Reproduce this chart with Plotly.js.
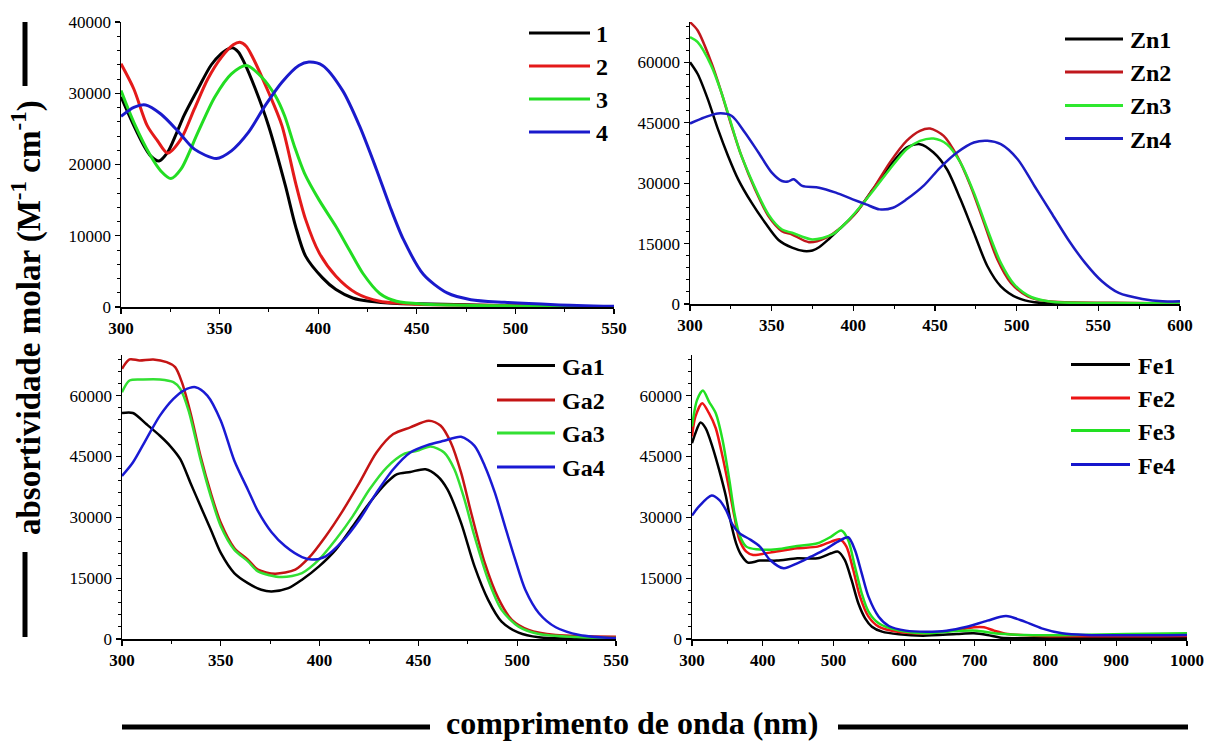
<!DOCTYPE html>
<html>
<head>
<meta charset="utf-8">
<script src="https://cdn.plot.ly/plotly-3.0.1.min.js"></script>
<style>html,body{margin:0;padding:0;background:#fff;}#chart{width:1206px;height:742px;}</style>
</head>
<body>
<div id="chart"></div>
<script>
// ---------- DATA ----------
// Panel A: compounds 1-4
var names1 = ["1", "2", "3", "4"];
var wl_1 = [300,306.5,311.6,315,319.3,323.6,328,332,339,345.8,351,353.5,356.4,359.5,362.5,368,374.8,383.4,388.5,393.6,402.2,409,417.5,426,440,450,475,500,550];
var ab_1 = [29500,25450,22630,21220,20500,21690,24300,26900,30600,34000,35600,36100,36400,35800,34300,30700,25450,17000,11360,7136,4085,2441,1268,800,500,450,300,150,0];
var wl_2 = [300,306.5,313.3,318.5,323.6,330.4,337.2,344,351,356.9,360.3,363.5,366.3,374.8,381.6,388.5,393.6,400.5,409,419.2,431.2,450,500,550];
var ab_2 = [34130,30600,25450,23330,21600,23560,27800,32000,35070,36800,37150,36600,35300,30140,25450,17460,12300,7600,4320,1970,800,400,200,0];
var wl_3 = [300,306.5,315,320.2,325.3,330.4,339,347.5,356,363.7,371.4,378.2,383,388,393,400.5,409,415.8,422.7,431.2,439.7,455,500,550];
var ab_3 = [30370,25920,21220,19100,18030,19340,24500,29440,32720,33900,32250,29670,26800,22500,18800,15000,11300,8000,4700,1900,800,400,150,0];
var wl_4 = [300,306.5,312.5,320.2,328.7,337.2,348.4,356,364.6,373.1,381.6,390.2,395.3,402.2,412.4,420.9,429.5,436.3,443.2,453.4,465.4,477.4,494.5,520,550];
var ab_4 = [26760,28030,28360,27090,24740,22160,20840,21920,24500,28260,31550,33900,34370,33900,30370,25450,19340,14180,9480,4550,1970,1030,660,330,100];

// Panel B: Zn1-Zn4
var names2 = ["Zn1", "Zn2", "Zn3", "Zn4"];
var wl_zn1 = [300,304.7,310.9,317.1,323.3,329.5,337.7,346,354.2,362.5,369.7,375,379,385.2,391.3,401.6,412,422.3,432.6,440.8,449.1,457.3,465.6,473.8,482.1,490.3,500.6,510.9,530,600];
var ab_zn1 = [60000,57100,50870,43400,36760,30950,25150,20170,15900,14000,13150,13300,14100,16200,18500,22660,28470,34270,38840,39670,37600,33450,25980,17680,9380,4400,1500,415,150,100];
var wl_zn2 = [300,304.7,313,319.2,325.4,331.5,339.8,348,356.3,362.5,372.8,383.1,393.4,401.6,412,422.3,432.6,440.8,447,455.3,463.5,471.8,480,488.2,496.5,506.8,519.2,560,600];
var ab_zn2 = [69960,67880,60000,52530,44230,36760,28470,21830,18090,17260,15350,16430,19340,22660,28470,35100,40500,43000,43570,41740,36760,29300,20170,11040,5230,1900,660,300,100];
var wl_zn3 = [300,304.7,313,319.2,325.4,331.5,348,356.3,362.5,374.8,387.2,395.5,403.7,412,422.3,432.6,440.8,449.1,457.3,465.6,473.8,482.1,490.3,498.6,508.9,521.2,560,600];
var ab_zn3 = [66230,64980,59170,52530,44500,36760,22240,18500,17680,16020,17260,20170,23900,28050,33450,38420,40500,41080,39670,35100,27640,18500,10210,4810,1740,580,250,100];
var wl_zn4 = [300,308.9,317.1,325.4,333.6,341.9,350.1,356.3,360,363.5,368.7,379,389.3,399.6,407.8,416.1,424.3,432.6,442.9,453.2,463.5,473.8,482.1,490.3,500.6,510.9,521.2,531.5,541.9,552.2,562.5,576.9,589.3,600];
var ab_zn4 = [44810,46310,47300,46720,42570,37600,32610,30540,30400,30950,29300,28880,27640,25980,24730,23490,23900,25980,29300,33860,37600,40080,40500,39670,35930,29300,22660,16020,10210,5640,2740,1240,660,700];

// Panel C: Ga1-Ga4
var names3 = ["Ga1", "Ga2", "Ga3", "Ga4"];
var wl_ga1 = [300,305.5,312.3,319.2,324.3,329.5,334.6,339.7,344.9,350,356.8,363.7,370.5,375.7,384.2,391.1,399.7,408.2,416.8,425.3,433.9,439,445.9,453.6,459.6,464.7,471.6,478.4,485.3,492.1,500.7,511,530,550];
var ab_ga1 = [55710,55710,52980,50100,47620,44320,38540,32760,26990,21210,16260,13780,12130,11720,12540,14610,17910,22040,27810,33590,38540,40600,41180,41840,40190,36890,28640,17910,9660,4290,1570,410,100,0];
var wl_ga2 = [300,303.8,308.9,315.8,322.6,326.9,330.3,334.6,339.7,344.9,350,356.8,363.7,368.8,377.4,387.7,394.5,403.1,411.6,420.2,428.8,437.3,445.9,455.3,461.3,466.4,471.6,476.7,483.6,490.4,497.3,505.8,519.5,550];
var ab_ga2 = [66600,68910,68660,68910,68250,67010,63300,55870,45140,36070,28640,22450,19560,17080,16090,17080,19970,25340,31530,38540,45970,50510,52160,53810,52570,48450,41020,31110,18730,10070,4700,2230,990,580];
var wl_ga3 = [300,303.8,310.6,319.2,326,329.5,333.7,339.7,344.9,350,356.8,363.7,368.8,380.8,391.1,399.7,408.2,416.8,425.3,433.9,442.5,449.3,456.2,463,468.2,473.3,478.4,485.3,492.1,500.7,511,530,550];
var ab_ga3 = [60820,63710,63960,63960,63300,61650,56290,44320,35240,27810,22040,19150,16670,15270,16260,19560,24510,30290,36890,42260,45560,46380,47460,45970,41840,34410,25340,14610,7180,3050,1240,500,250];
var wl_ga4 = [300,305.5,312.3,319.2,326,331.2,337.2,343.2,350,356.8,363.7,368.8,375.7,382.5,391.1,396.2,403.1,411.6,420.2,428.8,437.3,445.9,454.5,463,471.6,478.4,483.6,488.7,493.8,499,504.1,511,519.5,531.5,550];
var ab_ga4 = [40190,43490,49270,55050,59170,61240,62060,60000,53800,44000,36800,31500,26300,22900,20200,19600,20390,24100,29460,36070,41840,45970,47790,48860,49850,47620,42670,36070,27810,19560,12130,6350,2890,990,170];

// Panel D: Fe1-Fe4
var names4 = ["Fe1", "Fe2", "Fe3", "Fe4"];
var wl_fe1 = [300,304.8,312,319.2,328.8,338.4,348,355.2,362.4,369.6,379.2,396,420,448.8,477.6,496.8,506.4,516,525.6,535.2,544.8,554.4,568.8,592.8,626.4,674.5,698.5,717.7,736.9,794.5,1000];
var ab_fe1 = [48250,50720,53350,51950,47430,41680,35100,28520,23590,20710,18820,19320,19320,19890,19890,21130,21540,19480,14550,8800,5100,3040,1810,1150,820,1230,1400,990,330,160,160];
var wl_fe2 = [300,304.8,314.4,324,333.6,343.2,352.8,360,367.2,376.8,386.4,410.4,448.8,477.6,496.8,508.8,518.4,528,537.6,549.6,564,592.8,631.2,674.5,698.5,712.9,727.3,746.5,794.5,1000];
var ab_fe2 = [49900,54830,58120,55650,51950,44960,36740,30170,24410,21540,20710,21290,22360,22770,24000,24580,22770,17020,10440,5510,3040,1730,1400,2220,2880,2880,2060,1230,740,740];
var wl_fe3 = [300,307.2,315.4,324,333.6,343.2,352.8,360,367.2,376.8,391.2,420,448.8,477.6,496.8,511.2,520.8,530.4,540,549.6,564,592.8,631.2,674.5,703.3,727.3,770.5,842.5,914.5,1000];
var ab_fe3 = [52360,58940,61240,58530,55650,49070,39210,30990,25650,22770,22110,22110,22930,23590,25240,26720,24410,17840,11260,6740,3860,2060,1400,1970,2060,1400,990,990,1230,1400];
var wl_fe4 = [300,309.6,327.8,338.4,348,357.6,367.2,381.6,396,410.4,429.6,448.8,468,487.2,506.4,520.8,530.4,540,549.6,564,578.4,602.4,631.2,660,688.9,717.7,744.1,770.5,794.5,823.3,856.9,1000];
var ab_fe4 = [30410,32630,35350,34280,31810,28110,26060,24580,22770,19480,17430,18660,20300,21950,24000,25070,21950,16190,10440,5510,3210,2060,1810,2060,3040,4520,5670,4270,2630,1400,990,990];

// axis tick settings
var xRanges = [[300,550],[300,600],[300,550],[300,1000]];
var xDticks = [50, 50, 50, 100];
var yRanges = [[0,40000],[0,70000],[0,70000],[0,70000]];
var yDticks = [10000, 15000, 15000, 15000];

var yTitle = "absortividade molar (M<sup>-1</sup> cm<sup>-1</sup>)";
var xTitle = "comprimento de onda (nm)";

// ---------- STYLE ----------
var W = 1206, H = 742;
var serif = "Liberation Serif, Times New Roman, serif";
var panels = [
  {names: names1, xs: [wl_1, wl_2, wl_3, wl_4], ys: [ab_1, ab_2, ab_3, ab_4],
   colors: ["#000000", "#e41a1a", "#22dd22", "#1a1acc"], lw: 3,
   box: [121, 614, 22, 307], leg: {x0: 529, x1: 590, tx: 594, ys: [33, 66, 99, 132]}},
  {names: names2, xs: [wl_zn1, wl_zn2, wl_zn3, wl_zn4], ys: [ab_zn1, ab_zn2, ab_zn3, ab_zn4],
   colors: ["#000000", "#c0171c", "#2ee82e", "#1c1cc4"], lw: 2.5,
   box: [690, 1180, 22, 304], leg: {x0: 1065, x1: 1123, tx: 1128, ys: [39, 72, 105.5, 138.5]}},
  {names: names3, xs: [wl_ga1, wl_ga2, wl_ga3, wl_ga4], ys: [ab_ga1, ab_ga2, ab_ga3, ab_ga4],
   colors: ["#000000", "#c41414", "#33e033", "#1a1ad4"], lw: 2.5,
   box: [122, 616, 355, 639], leg: {x0: 497, x1: 555, tx: 560, ys: [365.5, 400, 433, 467]}},
  {names: names4, xs: [wl_fe1, wl_fe2, wl_fe3, wl_fe4], ys: [ab_fe1, ab_fe2, ab_fe3, ab_fe4],
   colors: ["#000000", "#ec1414", "#22e022", "#1616cc"], lw: 2.5,
   box: [692, 1187, 355, 639], leg: {x0: 1071, x1: 1130, tx: 1136, ys: [364.5, 398, 430.5, 464.5]}}
];

function px(x) { return x / W; }
function py(y) { return 1 - y / H; }

var traces = [];
var layout = {
  width: W, height: H,
  margin: {l: 0, r: 0, t: 0, b: 0},
  paper_bgcolor: "#ffffff", plot_bgcolor: "rgba(0,0,0,0)",
  showlegend: false,
  font: {family: serif, color: "#000"},
  shapes: [], annotations: []
};

panels.forEach(function (p, i) {
  var n = i + 1;
  var xa = "x" + (n === 1 ? "" : n), ya = "y" + (n === 1 ? "" : n);
  for (var k = 0; k < 4; k++) {
    traces.push({
      x: p.xs[k], y: p.ys[k], type: "scatter", mode: "lines", name: p.names[k],
      xaxis: xa, yaxis: ya,
      line: {color: p.colors[k], width: p.lw, shape: "spline", smoothing: 0.8},
      hoverinfo: "x+y+name"
    });
    // legend sample + label
    layout.shapes.push({type: "line", xref: "paper", yref: "paper",
      x0: px(p.leg.x0), x1: px(p.leg.x1), y0: py(p.leg.ys[k]), y1: py(p.leg.ys[k]),
      line: {color: p.colors[k], width: 3}});
    layout.annotations.push({xref: "paper", yref: "paper", x: px(p.leg.tx), y: py(p.leg.ys[k] + 1),
      xanchor: "left", yanchor: "middle", showarrow: false, text: p.names[k],
      font: {family: serif, size: 24, weight: "bold", color: "#000"}});
  }
  var base = {
    showline: true, linecolor: "#000", linewidth: 1.5, mirror: false,
    showgrid: false, zeroline: false, ticks: "outside", ticklen: 5, tickwidth: 1.2, tickcolor: "#000",
    tickformat: "d", fixedrange: true
  };
  var xax = Object.assign({}, base, {
    domain: [px(p.box[0]), px(p.box[1])], anchor: ya, range: xRanges[i],
    dtick: xDticks[i], tick0: 300,
    tickfont: {family: serif, size: 17, weight: "bold", color: "#000"},
    minor: {ticks: "outside", ticklen: 3, tickcolor: "#000", tickwidth: 1, dtick: xDticks[i] / 2}
  });
  var yax = Object.assign({}, base, {
    domain: [py(p.box[3]), py(p.box[2])], anchor: xa, range: yRanges[i],
    dtick: yDticks[i], tick0: 0,
    tickfont: {family: serif, size: 17, color: "#000"},
    minor: {ticks: "outside", ticklen: 3, tickcolor: "#000", tickwidth: 1, dtick: yDticks[i] / 5}
  });
  layout["xaxis" + (n === 1 ? "" : n)] = xax;
  layout["yaxis" + (n === 1 ? "" : n)] = yax;
});

// global axis titles with the flanking bars
layout.annotations.push({xref: "paper", yref: "paper", x: px(26), y: py(318), textangle: -90,
  xanchor: "center", yanchor: "middle", showarrow: false, text: yTitle,
  font: {family: serif, size: 33, weight: "bold", color: "#000"}});
layout.annotations.push({xref: "paper", yref: "paper", x: px(632), y: py(723),
  xanchor: "center", yanchor: "middle", showarrow: false, text: xTitle,
  font: {family: serif, size: 32, weight: "bold", color: "#000"}});
[[22, 86], [552, 637]].forEach(function (s) {
  layout.shapes.push({type: "line", xref: "paper", yref: "paper", x0: px(25), x1: px(25),
    y0: py(s[0]), y1: py(s[1]), line: {color: "#000", width: 5}});
});
[[122, 430], [838, 1188]].forEach(function (s) {
  layout.shapes.push({type: "line", xref: "paper", yref: "paper", x0: px(s[0]), x1: px(s[1]),
    y0: py(727), y1: py(727), line: {color: "#000", width: 5}});
});

Plotly.newPlot("chart", traces, layout, {displayModeBar: false, staticPlot: true});
</script>
</body>
</html>
